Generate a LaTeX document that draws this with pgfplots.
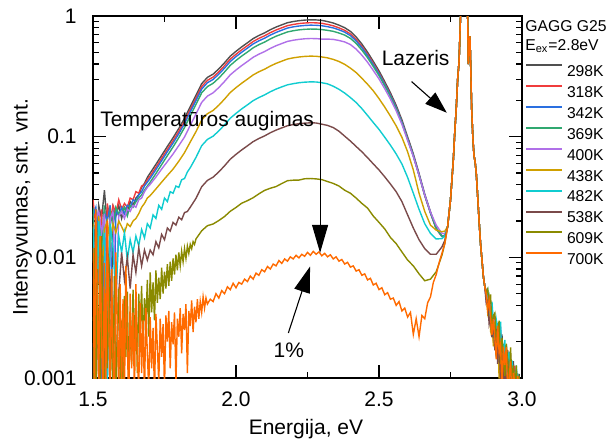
\documentclass[border=0pt]{standalone}
\usepackage{fontspec}
\setmainfont{Liberation Sans}
\usepackage{pgfplots}
\pgfplotsset{compat=1.18}
\usetikzlibrary{arrows.meta}
\definecolor{c298}{HTML}{505050}
\definecolor{c318}{HTML}{F03C3C}
\definecolor{c342}{HTML}{2A6FE0}
\definecolor{c369}{HTML}{30A870}
\definecolor{c400}{HTML}{B070E8}
\definecolor{c438}{HTML}{D0A000}
\definecolor{c482}{HTML}{10CCD0}
\definecolor{c538}{HTML}{7A4A4A}
\definecolor{c609}{HTML}{8A8A00}
\definecolor{c700}{HTML}{FF6A00}
\newcommand{\mainfs}{\fontsize{10.5}{12}\selectfont}
\newcommand{\legfs}{\fontsize{7.85}{9}\selectfont}
\begin{document}
\begin{tikzpicture}
\begin{axis}[
  scale only axis, width=214.5pt, height=181pt,
  xmin=1.5, xmax=3.0, ymode=log, ymin=0.001, ymax=1,
  xtick={1.5,2.0,2.5,3.0}, xticklabels={1.5,2.0,2.5,3.0},
  minor xtick={1.75,2.25,2.75},
  ytick={0.001,0.01,0.1,1}, yticklabels={0.001,0.01,0.1,\raisebox{-2.5pt}{1}},
  minor ytick={0.002,0.003,0.004,0.005,0.006,0.007,0.008,0.009,0.02,0.03,0.04,0.05,0.06,0.07,0.08,0.09,0.2,0.3,0.4,0.5,0.6,0.7,0.8,0.9},
  tick align=inside, major tick length=6.5pt, minor tick length=3pt,
  axis line style={line width=0.8pt},
  every tick/.style={black, line width=0.6pt},
  tick label style={font=\mainfs},
  xticklabel style={anchor=base, yshift=-14pt},
  yticklabel style={anchor=east, inner sep=0pt, xshift=-8pt},
  xlabel={Energija, eV}, ylabel={Intensyvumas, snt. vnt.},
  label style={font=\mainfs},
  xlabel style={at={(axis description cs:0.4965,-0.1547)}, anchor=base},
  ylabel style={at={(axis description cs:-0.164,0.472)}, anchor=center},
  every axis plot/.append style={line width=0.7pt, mark=none},
  legend style={at={(rel axis cs:1,1)}, anchor=north west, xshift=1.5pt, yshift=-24.1pt,
    draw=none, fill=none, inner sep=0pt, outer sep=0pt, font=\legfs,
    row sep=4.3pt, column sep=2pt,
    nodes={inner sep=0pt, text height=5.7pt, text depth=0pt}},
  legend cell align=left,
  legend image code/.code={\draw[#1, line width=1pt] (0pt,2.8pt) -- (18pt,2.8pt);},
]
% 298K
\addplot[c298] coordinates {(1.50,0.024) (1.51,0.0095) (1.52,0.027) (1.53,0.021) (1.54,0.036) (1.55,0.018) (1.56,0.0009) (1.57,0.026) (1.58,0.022) (1.59,0.027) (1.60,0.021) (1.61,0.026) (1.62,0.024) (1.63,0.029) (1.64,0.027) (1.65,0.031) (1.66,0.033) (1.67,0.038) (1.68,0.041) (1.69,0.046)
(1.70,0.050) (1.72,0.059) (1.74,0.070) (1.76,0.083) (1.78,0.098) (1.80,0.117) (1.82,0.142) (1.84,0.177) (1.86,0.22) (1.88,0.275) (1.90,0.31) (1.92,0.33) (1.94,0.365) (1.96,0.41) (1.98,0.465) (2.00,0.51) (2.02,0.555) (2.04,0.60) (2.06,0.65) (2.08,0.69) (2.10,0.725) (2.12,0.77) (2.14,0.81) (2.16,0.845) (2.18,0.88) (2.20,0.90) (2.22,0.915) (2.24,0.925) (2.26,0.93) (2.28,0.928) (2.30,0.92) (2.32,0.90) (2.34,0.875) (2.36,0.84) (2.38,0.80) (2.40,0.746) (2.42,0.671) (2.44,0.586) (2.46,0.501) (2.48,0.421) (2.50,0.351) (2.52,0.286) (2.54,0.231) (2.56,0.182) (2.58,0.138) (2.60,0.0998) (2.62,0.072) (2.64,0.0496) (2.66,0.0334) (2.68,0.0238) (2.70,0.0175) (2.72,0.015) (2.73,0.015) (2.74,0.018)
(2.75,0.030) (2.76,0.065) (2.765,0.11) (2.77,0.17) (2.775,0.30) (2.78,0.42) (2.785,1.0) (2.79,2.5) (2.80,3.0) (2.805,2.0) (2.81,1.0) (2.812,0.4) (2.815,0.6) (2.818,0.68) (2.821,0.35) (2.824,0.17) (2.828,0.10) (2.832,0.07) (2.836,0.062) (2.84,0.05) (2.845,0.032) (2.85,0.02) (2.855,0.013) (2.86,0.0095) (2.865,0.0069) (2.87,0.0057)
(2.875,0.0049) (2.88,0.00516) (2.885,0.00333) (2.89,0.0038) (2.895,0.00255) (2.90,0.00338) (2.905,0.002) (2.91,0.003) (2.915,0.00154) (2.92,0.0024) (2.925,0.00114) (2.93,0.0023) (2.935,0.00104) (2.94,0.00165) (2.945,0.0007) (2.95,0.00169) (2.955,0.00094) (2.96,0.0012) (2.965,0.00052) (2.97,0.00138) (2.975,0.00063) (2.98,0.0011) (2.985,0.00038) (2.99,0.00108) (2.995,0.00043) (3.00,0.00072)};
% 318K
\addplot[c318] coordinates {(1.50,0.030) (1.51,0.018) (1.52,0.006) (1.53,0.025) (1.54,0.0009) (1.55,0.028) (1.56,0.02) (1.57,0.027) (1.58,0.023) (1.59,0.03) (1.60,0.025) (1.61,0.028) (1.62,0.026) (1.63,0.031) (1.64,0.03) (1.65,0.035) (1.66,0.034) (1.67,0.039) (1.68,0.04) (1.69,0.044)
(1.70,0.0473) (1.72,0.0558) (1.74,0.0662) (1.76,0.0785) (1.78,0.0927) (1.80,0.1107) (1.82,0.1343) (1.84,0.1674) (1.86,0.208) (1.88,0.260) (1.90,0.293) (1.92,0.312) (1.94,0.345) (1.96,0.388) (1.98,0.44) (2.00,0.482) (2.02,0.525) (2.04,0.568) (2.06,0.615) (2.08,0.653) (2.10,0.686) (2.12,0.728) (2.14,0.766) (2.16,0.799) (2.18,0.832) (2.20,0.851) (2.22,0.866) (2.24,0.875) (2.26,0.88) (2.28,0.878) (2.30,0.870) (2.32,0.852) (2.34,0.830) (2.36,0.798) (2.38,0.761) (2.40,0.711) (2.42,0.640) (2.44,0.560) (2.46,0.480) (2.48,0.404) (2.50,0.337) (2.52,0.275) (2.54,0.223) (2.56,0.175) (2.58,0.133) (2.60,0.0966) (2.62,0.0698) (2.64,0.0482) (2.66,0.0325) (2.68,0.0233) (2.70,0.0172) (2.72,0.0149) (2.73,0.0150) (2.74,0.018)
(2.75,0.030) (2.76,0.065) (2.765,0.11) (2.77,0.17) (2.775,0.30) (2.78,0.42) (2.785,1.0) (2.79,2.5) (2.80,3.0) (2.805,2.0) (2.81,1.0) (2.812,0.4) (2.815,0.6) (2.818,0.68) (2.821,0.35) (2.824,0.17) (2.828,0.10) (2.832,0.07) (2.836,0.062) (2.84,0.05) (2.845,0.032) (2.85,0.02) (2.855,0.013) (2.86,0.0095) (2.865,0.0069) (2.87,0.0057)
(2.875,0.0054) (2.88,0.00387) (2.885,0.00444) (2.89,0.0028) (2.895,0.0033) (2.90,0.00203) (2.905,0.00325) (2.91,0.00207) (2.915,0.00253) (2.92,0.0011) (2.925,0.00238) (2.93,0.00145) (2.935,0.00192) (2.94,0.00075) (2.945,0.0014) (2.95,0.00169) (2.955,0.00075) (2.96,0.00138) (2.965,0.00092) (2.97,0.00055) (2.975,0.00126) (2.98,0.0007) (2.985,0.00105) (2.99,0.00041) (2.995,0.00085) (3.00,0.00048)};
% 342K
\addplot[c342] coordinates {(1.50,0.022) (1.51,0.026) (1.52,0.015) (1.53,0.0008) (1.54,0.024) (1.55,0.02) (1.56,0.027) (1.57,0.0011) (1.58,0.025) (1.59,0.022) (1.60,0.026) (1.61,0.023) (1.62,0.027) (1.63,0.026) (1.64,0.03) (1.65,0.029) (1.66,0.033) (1.67,0.035) (1.68,0.039) (1.69,0.042)
(1.70,0.0452) (1.72,0.0533) (1.74,0.0632) (1.76,0.075) (1.78,0.0885) (1.80,0.1057) (1.82,0.1282) (1.84,0.160) (1.86,0.199) (1.88,0.248) (1.90,0.280) (1.92,0.298) (1.94,0.330) (1.96,0.370) (1.98,0.420) (2.00,0.461) (2.02,0.501) (2.04,0.542) (2.06,0.587) (2.08,0.623) (2.10,0.655) (2.12,0.695) (2.14,0.731) (2.16,0.763) (2.18,0.795) (2.20,0.813) (2.22,0.826) (2.24,0.835) (2.26,0.840) (2.28,0.838) (2.30,0.831) (2.32,0.816) (2.34,0.797) (2.36,0.769) (2.38,0.735) (2.40,0.688) (2.42,0.622) (2.44,0.546) (2.46,0.469) (2.48,0.395) (2.50,0.331) (2.52,0.271) (2.54,0.220) (2.56,0.174) (2.58,0.132) (2.60,0.0962) (2.62,0.0697) (2.64,0.0482) (2.66,0.0327) (2.68,0.0234) (2.70,0.0173) (2.72,0.0149) (2.73,0.015) (2.74,0.018)
(2.75,0.030) (2.76,0.065) (2.765,0.11) (2.77,0.17) (2.775,0.30) (2.78,0.42) (2.785,1.0) (2.79,2.5) (2.80,3.0) (2.805,2.0) (2.81,1.0) (2.812,0.4) (2.815,0.6) (2.818,0.68) (2.821,0.35) (2.824,0.17) (2.828,0.10) (2.832,0.07) (2.836,0.062) (2.84,0.05) (2.845,0.032) (2.85,0.02) (2.855,0.013) (2.86,0.0095) (2.865,0.0069) (2.87,0.0057)
(2.875,0.00466) (2.88,0.00495) (2.885,0.0037) (2.89,0.00264) (2.895,0.0039) (2.90,0.00257) (2.905,0.00175) (2.91,0.00276) (2.915,0.00231) (2.92,0.0016) (2.925,0.00266) (2.93,0.00102) (2.935,0.00152) (2.94,0.00188) (2.945,0.00077) (2.95,0.00117) (2.955,0.0015) (2.96,0.0006) (2.965,0.00127) (2.97,0.00094) (2.975,0.00042) (2.98,0.00115) (2.985,0.00076) (2.99,0.00054) (2.995,0.00089) (3.00,0.0004)};
% 369K
\addplot[c369] coordinates {(1.50,0.026) (1.51,0.0035) (1.52,0.024) (1.53,0.013) (1.54,0.027) (1.55,0.0015) (1.56,0.024) (1.57,0.018) (1.58,0.026) (1.59,0.023) (1.60,0.024) (1.61,0.026) (1.62,0.022) (1.63,0.027) (1.64,0.026) (1.65,0.029) (1.66,0.031) (1.67,0.033) (1.68,0.036) (1.69,0.039)
(1.70,0.042) (1.72,0.0495) (1.74,0.0587) (1.76,0.0696) (1.78,0.0822) (1.80,0.0982) (1.82,0.119) (1.84,0.1485) (1.86,0.185) (1.88,0.231) (1.90,0.260) (1.92,0.277) (1.94,0.306) (1.96,0.344) (1.98,0.390) (2.00,0.428) (2.02,0.466) (2.04,0.503) (2.06,0.545) (2.08,0.579) (2.10,0.608) (2.12,0.646) (2.14,0.680) (2.16,0.709) (2.18,0.738) (2.20,0.755) (2.22,0.768) (2.24,0.776) (2.26,0.780) (2.28,0.779) (2.30,0.772) (2.32,0.761) (2.34,0.747) (2.36,0.723) (2.38,0.695) (2.40,0.653) (2.42,0.593) (2.44,0.522) (2.46,0.451) (2.48,0.382) (2.50,0.321) (2.52,0.264) (2.54,0.215) (2.56,0.170) (2.58,0.130) (2.60,0.095) (2.62,0.069) (2.64,0.048) (2.66,0.0326) (2.68,0.0234) (2.70,0.0174) (2.72,0.015) (2.73,0.015) (2.74,0.018)
(2.75,0.030) (2.76,0.065) (2.765,0.11) (2.77,0.17) (2.775,0.30) (2.78,0.42) (2.785,1.0) (2.79,2.5) (2.80,3.0) (2.805,2.0) (2.81,1.0) (2.812,0.4) (2.815,0.6) (2.818,0.68) (2.821,0.35) (2.824,0.17) (2.828,0.10) (2.832,0.07) (2.836,0.062) (2.84,0.05) (2.845,0.032) (2.85,0.02) (2.855,0.013) (2.86,0.0095) (2.865,0.0069) (2.87,0.0057)
(2.875,0.00515) (2.88,0.00387) (2.885,0.00463) (2.89,0.0033) (2.895,0.0024) (2.90,0.00324) (2.905,0.00225) (2.91,0.0015) (2.915,0.00286) (2.92,0.0017) (2.925,0.002) (2.93,0.00085) (2.935,0.00192) (2.94,0.00135) (2.945,0.00189) (2.95,0.00078) (2.955,0.00106) (2.96,0.00144) (2.965,0.00063) (2.97,0.00116) (2.975,0.00095) (2.98,0.00045) (2.985,0.00109) (2.99,0.00068) (2.995,0.00043) (3.00,0.00076)};
% 400K
\addplot[c400] coordinates {(1.50,0.0009) (1.51,0.021) (1.52,0.024) (1.53,0.016) (1.54,0.023) (1.55,0.0008) (1.56,0.021) (1.57,0.024) (1.58,0.004) (1.59,0.022) (1.60,0.024) (1.61,0.021) (1.62,0.025) (1.63,0.024) (1.64,0.027) (1.65,0.026) (1.66,0.03) (1.67,0.031) (1.68,0.035) (1.69,0.038)
(1.70,0.0403) (1.72,0.0463) (1.74,0.0539) (1.76,0.0622) (1.78,0.072) (1.80,0.0844) (1.82,0.0994) (1.84,0.124) (1.86,0.154) (1.88,0.1925) (1.90,0.217) (1.92,0.231) (1.94,0.2555) (1.96,0.287) (1.98,0.3255) (2.00,0.357) (2.02,0.3885) (2.04,0.42) (2.06,0.455) (2.08,0.483) (2.10,0.5075) (2.12,0.539) (2.14,0.567) (2.16,0.5915) (2.18,0.616) (2.20,0.63) (2.22,0.6405) (2.24,0.6475) (2.26,0.651) (2.28,0.65) (2.30,0.644) (2.32,0.644) (2.34,0.640) (2.36,0.627) (2.38,0.610) (2.40,0.580) (2.42,0.532) (2.44,0.474) (2.46,0.414) (2.48,0.354) (2.50,0.301) (2.52,0.250) (2.54,0.205) (2.56,0.164) (2.58,0.127) (2.60,0.0932) (2.62,0.0684) (2.64,0.0479) (2.66,0.0328) (2.68,0.0237) (2.70,0.0185) (2.72,0.0158) (2.73,0.0157) (2.74,0.018)
(2.75,0.030) (2.76,0.065) (2.765,0.11) (2.77,0.17) (2.775,0.30) (2.78,0.42) (2.785,1.0) (2.79,2.5) (2.80,3.0) (2.805,2.0) (2.81,1.0) (2.812,0.4) (2.815,0.6) (2.818,0.68) (2.821,0.35) (2.824,0.17) (2.828,0.10) (2.832,0.07) (2.836,0.062) (2.84,0.05) (2.845,0.032) (2.85,0.02) (2.855,0.013) (2.86,0.0095) (2.865,0.0069) (2.87,0.0057)
(2.875,0.00441) (2.88,0.00473) (2.885,0.00352) (2.89,0.00429) (2.895,0.00225) (2.90,0.00284) (2.905,0.003) (2.91,0.00184) (2.915,0.00209) (2.92,0.0026) (2.925,0.00114) (2.93,0.00187) (2.935,0.00128) (2.94,0.0009) (2.945,0.00168) (2.95,0.00124) (2.955,0.00063) (2.96,0.00156) (2.965,0.0008) (2.97,0.0011) (2.975,0.00058) (2.98,0.0011) (2.985,0.00062) (2.99,0.0009) (2.995,0.00034) (3.00,0.00064)};
% 438K
\addplot[c438] coordinates {(1.50,0.019) (1.51,0.0009) (1.52,0.022) (1.53,0.006) (1.54,0.017) (1.55,0.02) (1.56,0.013) (1.57,0.019) (1.58,0.016) (1.59,0.02) (1.60,0.018) (1.61,0.016) (1.62,0.019) (1.63,0.018) (1.64,0.02) (1.65,0.021) (1.66,0.023) (1.67,0.026) (1.68,0.028) (1.69,0.031)
(1.70,0.0325) (1.72,0.0369) (1.74,0.042) (1.76,0.0477) (1.78,0.0539) (1.80,0.0626) (1.82,0.0738) (1.84,0.0903) (1.86,0.11) (1.88,0.1375) (1.90,0.155) (1.92,0.165) (1.94,0.1825) (1.96,0.205) (1.98,0.2325) (2.00,0.255) (2.02,0.2775) (2.04,0.30) (2.06,0.325) (2.08,0.345) (2.10,0.3625) (2.12,0.385) (2.14,0.405) (2.16,0.4225) (2.18,0.44) (2.20,0.45) (2.22,0.4575) (2.24,0.4625) (2.26,0.465) (2.28,0.464) (2.30,0.458) (2.32,0.45) (2.34,0.437) (2.36,0.42) (2.38,0.398) (2.40,0.37) (2.42,0.34) (2.44,0.305) (2.46,0.272) (2.48,0.24) (2.50,0.207) (2.52,0.176) (2.54,0.148) (2.56,0.123) (2.58,0.099) (2.60,0.075) (2.62,0.053) (2.64,0.034) (2.66,0.024) (2.68,0.0185) (2.70,0.0168) (2.72,0.0163) (2.73,0.0165) (2.74,0.018)
(2.75,0.030) (2.76,0.065) (2.765,0.11) (2.77,0.17) (2.775,0.30) (2.78,0.42) (2.785,1.0) (2.79,2.5) (2.80,3.0) (2.805,2.0) (2.81,1.0) (2.812,0.4) (2.815,0.6) (2.818,0.68) (2.821,0.35) (2.824,0.17) (2.828,0.10) (2.832,0.07) (2.836,0.062) (2.84,0.05) (2.845,0.032) (2.85,0.02) (2.855,0.013) (2.86,0.0095) (2.865,0.0069) (2.87,0.0057)
(2.875,0.00486) (2.88,0.00348) (2.885,0.004) (2.89,0.00252) (2.895,0.00297) (2.90,0.00183) (2.905,0.00293) (2.91,0.00186) (2.915,0.00228) (2.92,0.00099) (2.925,0.00214) (2.93,0.0013) (2.935,0.00173) (2.94,0.00068) (2.945,0.00126) (2.95,0.00152) (2.955,0.00068) (2.96,0.00124) (2.965,0.00083) (2.97,0.0005) (2.975,0.00113) (2.98,0.00063) (2.985,0.00095) (2.99,0.00037) (2.995,0.00077) (3.00,0.00043)};
% 482K
\addplot[c482] coordinates {(1.50,0.018) (1.51,0.0012) (1.52,0.02) (1.53,0.011) (1.54,0.016) (1.55,0.0008) (1.56,0.019) (1.57,0.012) (1.58,0.0045) (1.59,0.015) (1.60,0.011) (1.61,0.016) (1.62,0.0095) (1.63,0.014) (1.64,0.011) (1.65,0.015) (1.66,0.0125) (1.67,0.017) (1.68,0.0145) (1.69,0.019) (1.70,0.0175) (1.71,0.0225) (1.72,0.021) (1.73,0.027) (1.74,0.025) (1.75,0.031) (1.76,0.029) (1.77,0.035) (1.78,0.034) (1.79,0.039) (1.80,0.038) (1.81,0.044) (1.82,0.045) (1.83,0.051)
(1.84,0.0553) (1.86,0.0673) (1.88,0.0842) (1.90,0.0949) (1.92,0.101) (1.94,0.1117) (1.96,0.1255) (1.98,0.1423) (2.00,0.156) (2.02,0.170) (2.04,0.1836) (2.06,0.199) (2.08,0.211) (2.10,0.222) (2.12,0.2356) (2.14,0.248) (2.16,0.2586) (2.18,0.269) (2.20,0.275) (2.22,0.280) (2.24,0.283) (2.26,0.2846) (2.28,0.284) (2.30,0.280) (2.32,0.274) (2.34,0.262) (2.36,0.247) (2.38,0.230) (2.40,0.211) (2.42,0.192) (2.44,0.171) (2.46,0.150) (2.48,0.131) (2.50,0.115) (2.52,0.099) (2.54,0.085) (2.56,0.072) (2.58,0.0595) (2.60,0.046) (2.62,0.034) (2.64,0.025) (2.66,0.019) (2.68,0.0158) (2.70,0.0142) (2.72,0.0143) (2.73,0.015) (2.74,0.018)
(2.75,0.030) (2.76,0.065) (2.765,0.11) (2.77,0.17) (2.775,0.30) (2.78,0.42) (2.785,1.0) (2.79,2.5) (2.80,3.0) (2.805,2.0) (2.81,1.0) (2.812,0.4) (2.815,0.6) (2.818,0.68) (2.821,0.35) (2.824,0.17) (2.828,0.10) (2.832,0.07) (2.836,0.062) (2.84,0.05) (2.845,0.032) (2.85,0.02) (2.855,0.013) (2.86,0.0095) (2.865,0.0069) (2.87,0.0057)
(2.875,0.00513) (2.88,0.00545) (2.885,0.00407) (2.89,0.0029) (2.895,0.00429) (2.90,0.00283) (2.905,0.00193) (2.91,0.00304) (2.915,0.00254) (2.92,0.00176) (2.925,0.00293) (2.93,0.00112) (2.935,0.00167) (2.94,0.00207) (2.945,0.00085) (2.95,0.00129) (2.955,0.00165) (2.96,0.00066) (2.965,0.0014) (2.97,0.00103) (2.975,0.00046) (2.98,0.00127) (2.985,0.00084) (2.99,0.00059) (2.995,0.00098) (3.00,0.00044)};
% 538K
\addplot[c538] coordinates {(1.50,0.006) (1.51,0.011) (1.52,0.0009) (1.53,0.009) (1.54,0.0008) (1.55,0.012) (1.56,0.0065) (1.57,0.0015) (1.58,0.0009) (1.59,0.005) (1.60,0.011) (1.61,0.0065) (1.62,0.01) (1.63,0.0055) (1.64,0.0105) (1.65,0.0075) (1.66,0.012) (1.67,0.0085) (1.68,0.0115) (1.69,0.0095) (1.70,0.0115) (1.71,0.0105) (1.72,0.0135) (1.73,0.012) (1.74,0.0155) (1.75,0.014) (1.76,0.0175) (1.77,0.0165) (1.78,0.0195) (1.79,0.0185) (1.80,0.0215) (1.81,0.0205) (1.82,0.0235) (1.83,0.024)
(1.84,0.026) (1.86,0.0308) (1.88,0.0385) (1.90,0.0434) (1.92,0.0462) (1.94,0.0511) (1.96,0.0574) (1.98,0.0651) (2.00,0.0714) (2.02,0.0777) (2.04,0.084) (2.06,0.091) (2.08,0.0966) (2.10,0.1015) (2.12,0.1078) (2.14,0.1134) (2.16,0.1183) (2.18,0.1232) (2.20,0.126) (2.22,0.1281) (2.24,0.1295) (2.26,0.1302) (2.28,0.1299) (2.30,0.127) (2.32,0.124) (2.34,0.119) (2.36,0.111) (2.38,0.101) (2.40,0.092) (2.42,0.083) (2.44,0.075) (2.46,0.067) (2.48,0.0595) (2.50,0.053) (2.52,0.0465) (2.54,0.0405) (2.56,0.035) (2.58,0.029) (2.60,0.0225) (2.62,0.0175) (2.64,0.014) (2.66,0.0118) (2.68,0.0106) (2.70,0.0106) (2.72,0.0122) (2.73,0.0138) (2.74,0.018)
(2.75,0.030) (2.76,0.065) (2.765,0.11) (2.77,0.17) (2.775,0.30) (2.78,0.42) (2.785,1.0) (2.79,2.5) (2.80,3.0) (2.805,2.0) (2.81,1.0) (2.812,0.4) (2.815,0.6) (2.818,0.68) (2.821,0.35) (2.824,0.17) (2.828,0.10) (2.832,0.07) (2.836,0.062) (2.84,0.05) (2.845,0.032) (2.85,0.02) (2.855,0.013) (2.86,0.0095) (2.865,0.0069) (2.87,0.0057)
(2.875,0.00417) (2.88,0.00439) (2.885,0.00283) (2.89,0.00323) (2.895,0.00217) (2.90,0.00287) (2.905,0.0017) (2.91,0.00255) (2.915,0.00131) (2.92,0.00204) (2.925,0.00097) (2.93,0.00196) (2.935,0.00088) (2.94,0.0014) (2.945,0.0006) (2.95,0.00144) (2.955,0.0008) (2.96,0.00102) (2.965,0.00044) (2.97,0.00117) (2.975,0.00054) (2.98,0.00094) (2.985,0.00032) (2.99,0.00092) (2.995,0.00037) (3.00,0.00061)};
% 609K
\addplot[c609] coordinates {(1.500,0.0009) (1.505,0.012) (1.510,0.0007) (1.515,0.008) (1.520,0.002) (1.525,0.0008) (1.530,0.015) (1.535,0.0015) (1.540,0.0006) (1.545,0.004) (1.550,0.0012) (1.555,0.01) (1.560,0.0008) (1.565,0.003) (1.570,0.0009) (1.575,0.007) (1.580,0.0007) (1.585,0.0025) (1.590,0.0055) (1.595,0.0009) (1.600,0.003) (1.605,0.0008) (1.610,0.0048) (1.615,0.0015) (1.620,0.0052) (1.625,0.0009) (1.630,0.0035) (1.635,0.0013) (1.640,0.0054) (1.645,0.002) (1.650,0.0042) (1.655,0.0011) (1.660,0.005) (1.665,0.0024) (1.670,0.0058) (1.675,0.0018) (1.680,0.0046) (1.685,0.0028) (1.690,0.0065) (1.695,0.0022) (1.700,0.0075) (1.705,0.0035) (1.710,0.0062) (1.715,0.003) (1.720,0.0078) (1.725,0.0042) (1.730,0.0068) (1.735,0.0045) (1.740,0.0082) (1.745,0.005) (1.750,0.0076) (1.755,0.0055) (1.760,0.0088) (1.765,0.0058) (1.770,0.0092) (1.775,0.0064) (1.780,0.0098) (1.785,0.0072) (1.790,0.0105) (1.795,0.0078) (1.800,0.011) (1.805,0.0085) (1.810,0.0112) (1.815,0.0092) (1.820,0.0118) (1.825,0.0098) (1.830,0.0124) (1.835,0.0108) (1.840,0.0128) (1.845,0.0118) (1.850,0.0135) (1.855,0.0128) (1.860,0.0142)
(1.88,0.0166) (1.90,0.0183) (1.92,0.0189) (1.94,0.0202) (1.96,0.0218) (1.98,0.0241) (2.00,0.0259) (2.02,0.0281) (2.04,0.0295) (2.06,0.0312) (2.08,0.0336) (2.10,0.0359) (2.12,0.0374) (2.14,0.0386) (2.16,0.0409) (2.18,0.0432) (2.20,0.0436) (2.22,0.0437) (2.24,0.0448) (2.26,0.045) (2.28,0.0447) (2.30,0.0441) (2.32,0.0425) (2.34,0.041) (2.36,0.039) (2.38,0.036) (2.40,0.034) (2.42,0.031) (2.44,0.028) (2.46,0.0256) (2.48,0.022) (2.50,0.0195) (2.52,0.0172) (2.54,0.0146) (2.56,0.013) (2.58,0.0111) (2.60,0.0095) (2.62,0.0085) (2.64,0.0073) (2.66,0.0064) (2.68,0.0066) (2.70,0.0076) (2.72,0.0104) (2.73,0.013) (2.74,0.018)
(2.75,0.030) (2.76,0.065) (2.765,0.11) (2.77,0.17) (2.775,0.30) (2.78,0.42) (2.785,1.0) (2.79,2.5) (2.80,3.0) (2.805,2.0) (2.81,1.0) (2.812,0.4) (2.815,0.6) (2.818,0.68) (2.821,0.35) (2.824,0.17) (2.828,0.10) (2.832,0.07) (2.836,0.062) (2.84,0.05) (2.845,0.032) (2.85,0.02) (2.855,0.013) (2.86,0.0095) (2.865,0.0069) (2.87,0.0057)
(2.875,0.00507) (2.88,0.00544) (2.885,0.00405) (2.89,0.00493) (2.895,0.00259) (2.90,0.00327) (2.905,0.00345) (2.91,0.00212) (2.915,0.0024) (2.92,0.00299) (2.925,0.00131) (2.93,0.00215) (2.935,0.00147) (2.94,0.00104) (2.945,0.00193) (2.95,0.00143) (2.955,0.00072) (2.96,0.00179) (2.965,0.00092) (2.97,0.00127) (2.975,0.00067) (2.98,0.00127) (2.985,0.00071) (2.99,0.00104) (2.995,0.00039) (3.00,0.00074)};
% 700K
\addplot[c700] coordinates {(1.500,0.012) (1.505,0.0007) (1.510,0.025) (1.515,0.004) (1.520,0.0008) (1.525,0.015) (1.530,0.002) (1.535,0.0006) (1.540,0.009) (1.545,0.0009) (1.550,0.02) (1.555,0.003) (1.560,0.0007) (1.565,0.008) (1.570,0.0015) (1.575,0.0006) (1.580,0.011) (1.585,0.0025) (1.590,0.0008) (1.595,0.006) (1.600,0.0009) (1.605,0.0045) (1.610,0.0007) (1.615,0.0085) (1.620,0.002) (1.625,0.0006) (1.630,0.005) (1.635,0.0012) (1.640,0.0035) (1.645,0.0007) (1.650,0.006) (1.655,0.0015) (1.660,0.0008) (1.665,0.0042) (1.670,0.0011) (1.675,0.003) (1.680,0.0007) (1.685,0.0038) (1.690,0.0016) (1.695,0.0008) (1.700,0.0032) (1.705,0.0012) (1.710,0.0026) (1.715,0.0007) (1.720,0.0034) (1.725,0.0018) (1.730,0.0009) (1.735,0.0031) (1.740,0.0015) (1.745,0.0028) (1.750,0.0008) (1.755,0.0033) (1.760,0.002) (1.765,0.0036) (1.770,0.0012) (1.775,0.0029) (1.780,0.0019) (1.785,0.0035) (1.790,0.0009) (1.795,0.0031) (1.800,0.0022) (1.805,0.0038) (1.810,0.0016) (1.815,0.0034) (1.820,0.0025) (1.825,0.0041) (1.830,0.0011) (1.835,0.0036) (1.840,0.0027) (1.845,0.0044) (1.850,0.0024) (1.855,0.0039) (1.860,0.0029) (1.865,0.0045) (1.870,0.0031) (1.875,0.0043) (1.880,0.0035) (1.885,0.0047) (1.890,0.0038) (1.895,0.0046) (1.900,0.0041)
(1.91,0.0045) (1.92,0.0043) (1.93,0.0050) (1.94,0.0046) (1.95,0.0053) (1.96,0.0050) (1.97,0.0057) (1.98,0.0054) (1.99,0.0061) (2.00,0.0056) (2.01,0.0062) (2.02,0.0060) (2.03,0.0066) (2.04,0.0063) (2.05,0.0070) (2.06,0.0066) (2.07,0.0074) (2.08,0.0071) (2.09,0.0079) (2.10,0.0076) (2.11,0.0084) (2.12,0.0080) (2.13,0.0088) (2.14,0.0085) (2.15,0.0094) (2.16,0.0089) (2.17,0.0097) (2.18,0.0093) (2.19,0.0101) (2.20,0.0097) (2.21,0.0104) (2.22,0.0099) (2.23,0.0106) (2.24,0.0102) (2.25,0.0110) (2.26,0.0104) (2.27,0.0112) (2.28,0.0106) (2.29,0.0111) (2.30,0.0103) (2.31,0.0108) (2.32,0.0101) (2.33,0.0105) (2.34,0.0097) (2.35,0.0101) (2.36,0.0093) (2.37,0.0096) (2.38,0.0088) (2.39,0.0091) (2.40,0.0083) (2.41,0.0085) (2.42,0.0077) (2.43,0.0079) (2.44,0.0071) (2.45,0.0073) (2.46,0.0065) (2.47,0.0067) (2.48,0.0059) (2.49,0.0061) (2.50,0.0054) (2.51,0.0056) (2.52,0.0049) (2.53,0.0051) (2.54,0.0045) (2.55,0.0046) (2.56,0.0040) (2.57,0.0043) (2.58,0.0036) (2.59,0.0038) (2.60,0.0032) (2.61,0.0035) (2.62,0.0023) (2.63,0.0031) (2.64,0.0022) (2.65,0.0033) (2.66,0.0031) (2.67,0.0042) (2.68,0.0047) (2.69,0.0062) (2.70,0.0072) (2.71,0.0090) (2.72,0.0108) (2.73,0.013) (2.74,0.018)
(2.75,0.030) (2.76,0.065) (2.765,0.11) (2.77,0.17) (2.775,0.30) (2.78,0.42) (2.785,1.0) (2.79,2.5) (2.80,3.0) (2.805,2.0) (2.81,1.0) (2.812,0.4) (2.815,0.6) (2.818,0.68) (2.821,0.35) (2.824,0.17) (2.828,0.10) (2.832,0.07) (2.836,0.062) (2.84,0.05) (2.845,0.032) (2.85,0.02) (2.855,0.013) (2.86,0.0095) (2.865,0.0069) (2.87,0.0057)
(2.875,0.00489) (2.88,0.00368) (2.885,0.0044) (2.89,0.00314) (2.895,0.00228) (2.90,0.00308) (2.905,0.00214) (2.91,0.00143) (2.915,0.00272) (2.92,0.00162) (2.925,0.0019) (2.93,0.00081) (2.935,0.00182) (2.94,0.00128) (2.945,0.0018) (2.95,0.00074) (2.955,0.00101) (2.96,0.00137) (2.965,0.0006) (2.97,0.0011) (2.975,0.0009) (2.98,0.00043) (2.985,0.00104) (2.99,0.00065) (2.995,0.00041) (3.00,0.00072)};
\legend{298K,318K,342K,369K,400K,438K,482K,538K,609K,700K}
% annotations
\draw[line width=0.55pt, -{Triangle[length=14pt,width=8pt]}] (axis cs:2.294,0.95) -- (axis cs:2.294,0.0109);
\draw[line width=0.55pt, -{Triangle[length=13pt,width=8pt]}] (axis cs:2.183,0.00236) -- (axis cs:2.259,0.0084);
\draw[line width=0.55pt, -{Triangle[length=11pt,width=7.5pt]}] (axis cs:2.614,0.286) -- (axis cs:2.737,0.158);
\node[font=\mainfs, anchor=center, inner sep=0pt] at (axis cs:2.185,0.00171) {1\%};
\node[font=\mainfs, anchor=center, inner sep=0pt] at (axis cs:2.628,0.447) {Lazeris};
\node[font=\mainfs, anchor=base west, inner sep=0pt] at (axis cs:1.5245,0.121) {Temperatūros augimas};
\end{axis}
\node[font=\legfs, anchor=base west, inner sep=0pt] at ([xshift=1.5pt,yshift=-7.8pt]current axis.north east) {GAGG G25};
\node[font=\legfs, anchor=base west, inner sep=0pt] at ([xshift=1.5pt,yshift=-17pt]current axis.north east) {E\textsubscript{ex}=2.8eV};
\pgfresetboundingbox
\path[use as bounding box] (-46.5pt,-31.5pt) rectangle (257.5pt,189pt);
\end{tikzpicture}
\end{document}
